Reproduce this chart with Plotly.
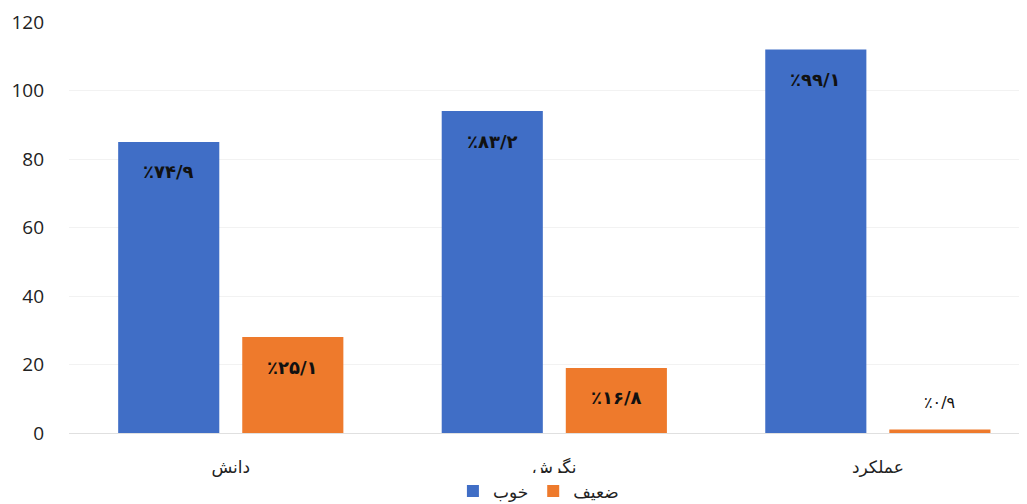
import plotly.graph_objects as go

categories = ["دانش", "نگرش", "عملکرد"]
good_values = [85, 94, 112]
weak_values = [28, 19, 1]
good_labels = ["٪۷۴/۹", "٪۸۳/۲", "٪۹۹/۱"]
weak_labels = ["٪۲۵/۱", "٪۱۶/۸", "٪۰/۹"]
series_names = ["خوب", "ضعیف"]
y_ticks = [0, 20, 40, 60, 80, 100, 120]

blue = "#406ec6"
orange = "#ee7a2c"
fa_font = "DejaVu Sans"

fig = go.Figure()
fig.add_trace(go.Bar(x=categories, y=good_values, name=series_names[0],
                     marker=dict(color=blue, line=dict(width=0))))
fig.add_trace(go.Bar(x=categories, y=weak_values, name=series_names[1],
                     marker=dict(color=orange, line=dict(width=0))))

annotations = []
for labels, values, shift in [(good_labels, good_values, -62), (weak_labels, weak_values, 62)]:
    for c, v, t in zip(categories, values, labels):
        inside = v > 5
        annotations.append(dict(
            x=c, y=v, xref="x", yref="y", text=t, showarrow=False,
            xshift=shift, yshift=-30 if inside else 27,
            font=dict(family=fa_font, size=18 if inside else 16,
                      color="#111111", weight="bold" if inside else "normal"),
        ))

fig.update_layout(
    width=1019, height=496,
    margin=dict(l=61, r=0, t=14, b=71, autoexpand=False),
    paper_bgcolor="white", plot_bgcolor="white",
    barmode="group", bargap=0.233, bargroupgap=0.185,
    annotations=annotations,
    showlegend=True,
    legend=dict(orientation="h", x=0.49, xanchor="center", y=-0.142, yanchor="middle",
                font=dict(family=fa_font, size=17, color="#222222"),
                itemwidth=30),
    xaxis=dict(showgrid=False, showline=False, ticks="", range=[-0.5, 2.461],
               tickfont=dict(family=fa_font, size=17, color="#222222"),
               ticklabelstandoff=22),
    yaxis=dict(range=[0, 120], tickvals=y_ticks, showgrid=True, gridcolor="#f2f2f2",
               gridwidth=1, zeroline=True, zerolinecolor="#e0e0e0", zerolinewidth=1,
               ticks="", tickfont=dict(family="Open Sans", size=19, color="#222222"),
               ticklabelstandoff=24),
)

fig.write_html("out.html")
